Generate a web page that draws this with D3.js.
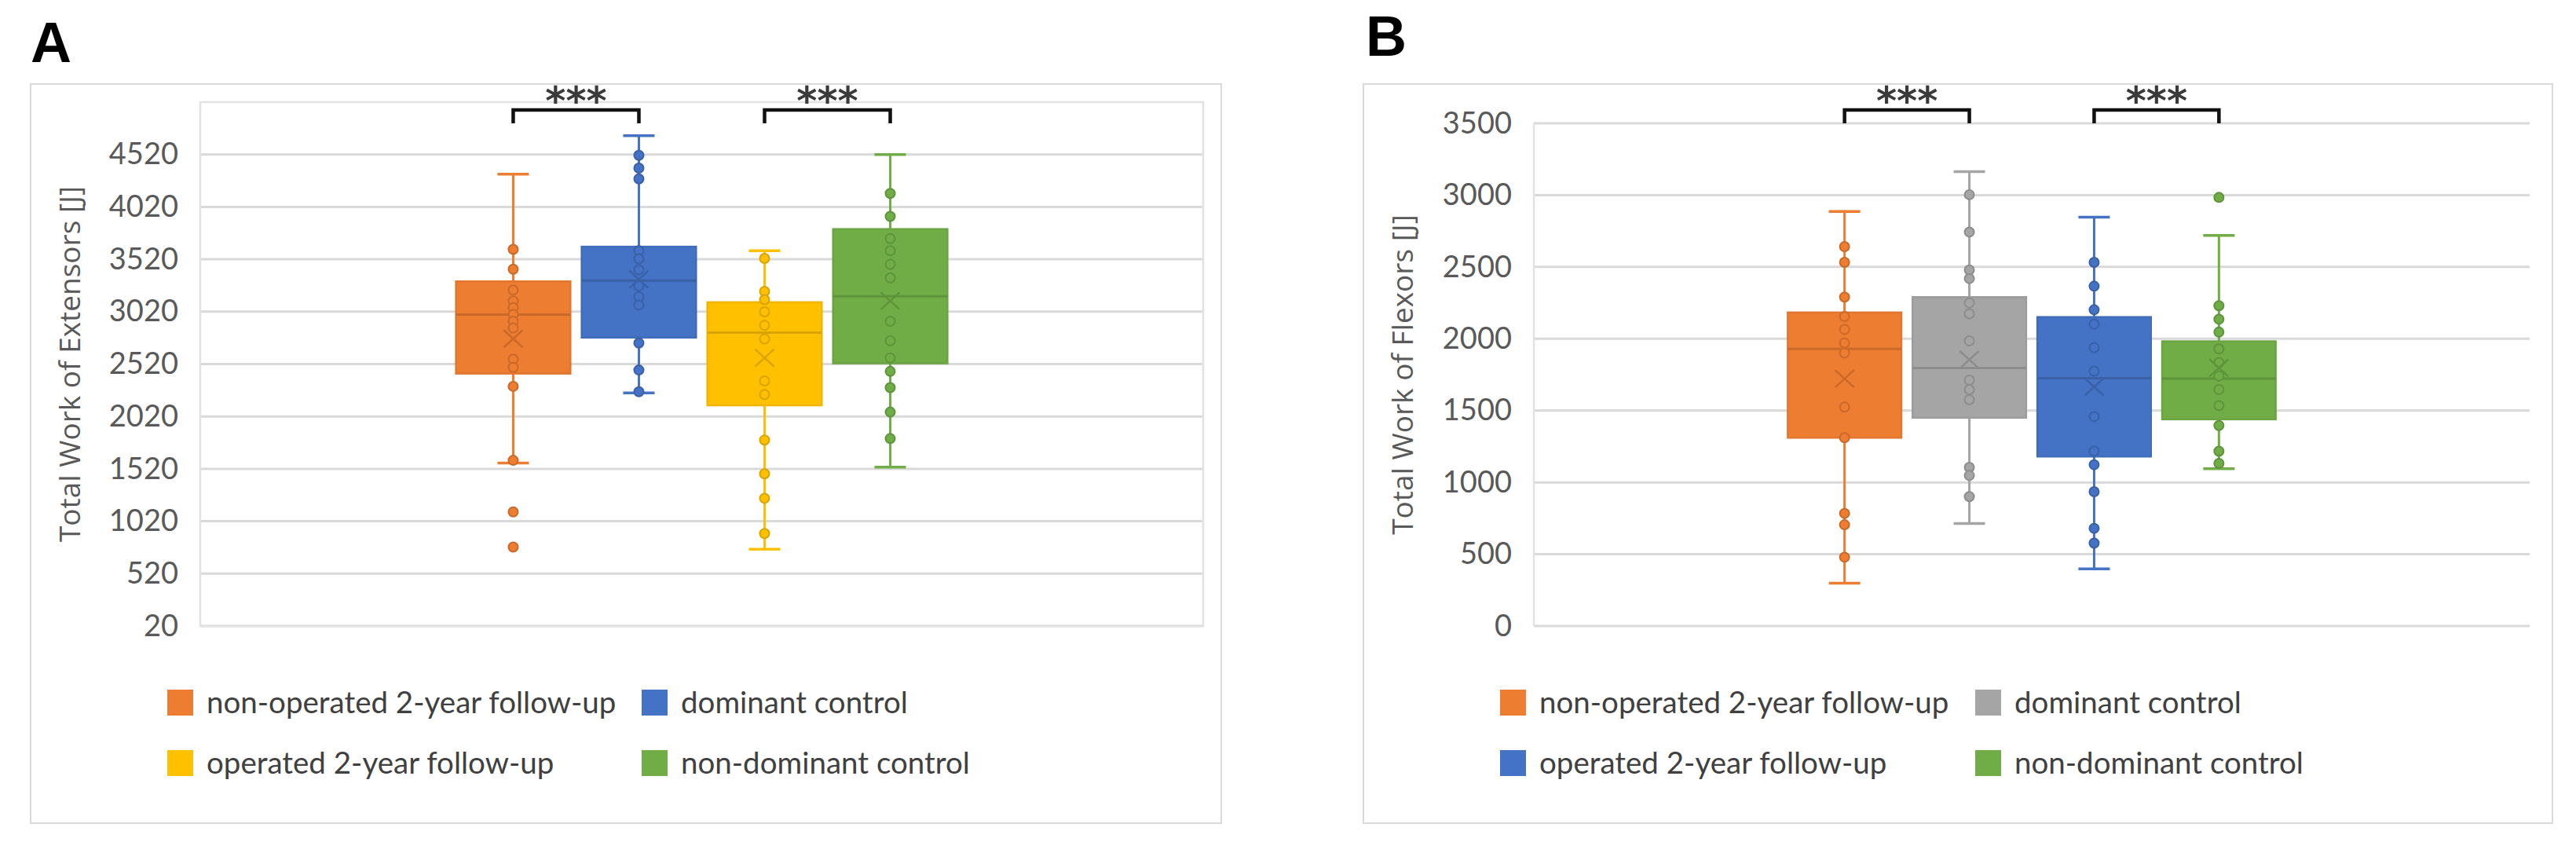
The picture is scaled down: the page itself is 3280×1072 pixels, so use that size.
<!DOCTYPE html>
<html>
<head>
<meta charset="utf-8">
<script src="https://cdn.jsdelivr.net/npm/d3@7"></script>
<style>
body { margin: 0; background: #fff; }
svg { display: block; }
</style>
</head>
<body>
<div id="chart"></div>
<script>
var width = 3280;
var height = 1072;

// legend / series order is the same in both panels
var seriesNames = ["non-operated 2-year follow-up", "dominant control", "operated 2-year follow-up", "non-dominant control"];
var colorsA = ["#ED7D31", "#4472C4", "#FFC000", "#70AD47"];
var colorsB = ["#ED7D31", "#A5A5A5", "#4472C4", "#70AD47"];

// A - total work of extensors [J]
var extTicks = [20, 520, 1020, 1520, 2020, 2520, 3020, 3520, 4020, 4520];
var extLow  = [1575, 2244, 752, 1537];
var extQ1   = [2429, 2773, 2126, 2527];
var extMed  = [2993, 3316, 2820, 3166];
var extQ3   = [3309, 3640, 3110, 3808];
var extHigh = [4332, 4700, 3601, 4520];
var extMean = [2762, 3329, 2579, 3122];
var extPoints = [
	[3614, 3425, 3226, 3122, 3058, 2993, 2928, 2864, 2567, 2488, 2307, 1601, 1109, 773],
	[4512, 4390, 4287, 3601, 3524, 3420, 3265, 3162, 3083, 2721, 2463, 2256],
	[3528, 3213, 3135, 3019, 2890, 2760, 2359, 2230, 1795, 1472, 1239, 903],
	[4149, 3929, 3717, 3601, 3472, 3343, 2929, 2742, 2579, 2450, 2295, 2062, 1809]
];

// B - total work of flexors [J]
var flexTicks = [0, 500, 1000, 1500, 2000, 2500, 3000, 3500];
var flexLow  = [298, 713, 398, 1095];
var flexQ1   = [1311, 1450, 1180, 1439];
var flexMed  = [1929, 1797, 1726, 1722];
var flexQ3   = [2183, 2290, 2151, 1982];
var flexHigh = [2886, 3163, 2846, 2720];
var flexMean = [1722, 1854, 1665, 1797];
var flexPoints = [
	[2641, 2532, 2290, 2155, 2065, 1970, 1901, 1524, 1311, 784, 705, 479],
	[3003, 2743, 2479, 2419, 2249, 2174, 1985, 1712, 1646, 1575, 1105, 1048, 901],
	[2532, 2366, 2202, 2102, 1938, 1775, 1458, 1217, 1123, 935, 680, 577],
	[2984, 2230, 2136, 2046, 1929, 1835, 1741, 1646, 1534, 1396, 1217, 1132]
];

// pairs marked *** above the boxes
var sigPairs = [[0, 1], [2, 3]];

var svg = d3.select("#chart").append("svg")
	.attr("width", width)
	.attr("height", height)
	.attr("xmlns", "http://www.w3.org/2000/svg");

svg.append("rect").attr("width", width).attr("height", height).attr("fill", "#fff");

var tickFont = "Lato, 'Liberation Sans', sans-serif";
var textColor = "#595959";

function drawPanel(p) {
	var g = svg.append("g");

	// outer chart frame
	g.append("rect")
		.attr("x", p.frame[0]).attr("y", p.frame[1])
		.attr("width", p.frame[2] - p.frame[0]).attr("height", p.frame[3] - p.frame[1])
		.attr("fill", "none").attr("stroke", "#d9d9d9").attr("stroke-width", 2);

	g.append("text")
		.text(p.letter)
		.attr("x", p.letterPos[0]).attr("y", p.letterPos[1])
		.attr("style", "font-weight:bold; font-size:72px; font-family:'Liberation Sans', Arial, sans-serif;")
		.attr("fill", "#000");

	var y = d3.scaleLinear().domain(p.domain).range([p.bottom, p.top]);

	var x0 = d3.scaleBand().domain(["all"]).range([p.left, p.right])
		.paddingInner(0).paddingOuter(0.5);
	var x1 = d3.scaleBand().domain(d3.range(p.names.length))
		.range([x0("all"), x0("all") + x0.bandwidth()])
		.paddingInner(0.09).paddingOuter(0.04);

	// gridlines
	g.append("g").selectAll("line")
		.data(p.ticks)
		.enter().append("line")
		.attr("x1", p.left).attr("x2", p.right)
		.attr("y1", function(d) { return y(d); })
		.attr("y2", function(d) { return y(d); })
		.style("stroke", "#d9d9d9")
		.style("stroke-width", 3);

	if (p.border) {
		g.append("rect")
			.attr("x", p.left).attr("y", p.top)
			.attr("width", p.right - p.left).attr("height", p.bottom - p.top)
			.attr("fill", "none").attr("stroke", "#e2e2e2").attr("stroke-width", 2.5);
	} else {
		g.append("line")
			.attr("x1", p.left).attr("x2", p.left)
			.attr("y1", p.top).attr("y2", p.bottom)
			.style("stroke", "#e2e2e2").style("stroke-width", 2.5);
	}

	var axis = d3.axisLeft(y).tickValues(p.ticks).tickSize(0).tickPadding(28)
		.tickFormat(d3.format("d"));
	var ax = g.append("g").attr("transform", "translate(" + p.left + ",0)").call(axis);
	ax.select(".domain").remove();
	ax.selectAll("text")
		.attr("style", "font-size:38px; font-family:" + tickFont + ";")
		.attr("fill", textColor);

	g.append("text")
		.text(p.title)
		.attr("transform", "translate(" + p.titleX + "," + ((p.top + p.bottom) / 2) + ") rotate(-90)")
		.attr("text-anchor", "middle")
		.attr("dy", "0.35em")
		.attr("style", "font-size:37px; font-family:'Open Sans', 'Noto Sans', sans-serif;")
		.attr("fill", textColor);

	// boxes
	for (var i = 0; i < p.names.length; i++) {
		var c = p.colors[i];
		var dark = d3.color(c).darker(0.45).toString();
		var cx = x1(i) + x1.bandwidth() / 2;
		var sg = g.append("g");

		sg.append("line")
			.attr("x1", cx).attr("x2", cx)
			.attr("y1", y(p.high[i])).attr("y2", y(p.low[i]))
			.style("stroke", c).style("stroke-width", 3);

		sg.selectAll("line.cap")
			.data([p.low[i], p.high[i]])
			.enter().append("line")
			.attr("class", "cap")
			.attr("x1", cx - 20).attr("x2", cx + 20)
			.attr("y1", function(d) { return y(d); })
			.attr("y2", function(d) { return y(d); })
			.style("stroke", c).style("stroke-width", 3.5);

		sg.append("rect")
			.attr("x", x1(i)).attr("width", x1.bandwidth())
			.attr("y", y(p.q3[i])).attr("height", y(p.q1[i]) - y(p.q3[i]))
			.attr("fill", c)
			.attr("stroke", d3.color(c).darker(0.15)).attr("stroke-width", 2.5);

		sg.append("line")
			.attr("x1", x1(i)).attr("x2", x1(i) + x1.bandwidth())
			.attr("y1", y(p.med[i])).attr("y2", y(p.med[i]))
			.style("stroke", dark).style("stroke-width", 3);

		sg.selectAll("circle")
			.data(p.points[i])
			.enter().append("circle")
			.attr("cx", cx)
			.attr("cy", function(d) { return y(d); })
			.attr("r", 6)
			.attr("fill", c)
			.attr("stroke", dark)
			.attr("stroke-width", 2);

		// mean marker
		var my = y(p.mean[i]);
		sg.append("path")
			.attr("d", "M" + (cx - 12) + "," + (my - 11) + "L" + (cx + 12) + "," + (my + 11) +
				"M" + (cx - 12) + "," + (my + 11) + "L" + (cx + 12) + "," + (my - 11))
			.style("stroke", dark).style("stroke-width", 2.5).style("fill", "none");
	}

	// significance brackets
	for (var k = 0; k < sigPairs.length; k++) {
		var a = x1(sigPairs[k][0]) + x1.bandwidth() / 2;
		var b = x1(sigPairs[k][1]) + x1.bandwidth() / 2;
		g.append("path")
			.attr("d", "M" + a + ",157V140H" + b + "V157")
			.style("fill", "none").style("stroke", "#111").style("stroke-width", 4.5);
		g.append("text")
			.text("***")
			.attr("x", (a + b) / 2).attr("y", 146)
			.attr("text-anchor", "middle")
			.attr("style", "font-size:50px; font-weight:bold; font-family:'DejaVu Sans', sans-serif;")
			.attr("fill", "#3a3a3a");
	}

	// legend: two columns, two rows
	var lg = g.append("g").selectAll("g")
		.data(p.names)
		.enter().append("g")
		.attr("transform", function(d, i) {
			return "translate(" + p.legendCols[i % 2] + "," + p.legendRows[Math.floor(i / 2)] + ")";
		});
	lg.append("rect")
		.attr("x", 0).attr("y", -17).attr("width", 33).attr("height", 33)
		.attr("fill", function(d, i) { return p.colors[i]; });
	lg.append("text")
		.text(function(d) { return d; })
		.attr("x", 50).attr("dy", "0.35em")
		.attr("style", "font-size:38.5px; font-family:" + tickFont + ";")
		.attr("fill", "#404040");
}

drawPanel({
	letter: "A", letterPos: [39, 79],
	frame: [39, 107, 1555, 1048],
	left: 255, right: 1532, top: 130, bottom: 797,
	domain: [20, 5020], ticks: extTicks, border: true,
	title: "Total Work of Extensors [J]", titleX: 89,
	names: seriesNames, colors: colorsA,
	low: extLow, q1: extQ1, med: extMed, q3: extQ3, high: extHigh, mean: extMean, points: extPoints,
	legendCols: [213, 817], legendRows: [895, 972]
});

drawPanel({
	letter: "B", letterPos: [1739, 71],
	frame: [1736, 107, 3250, 1048],
	left: 1953, right: 3221, top: 157, bottom: 797,
	domain: [0, 3500], ticks: flexTicks, border: false,
	title: "Total Work of Flexors [J]", titleX: 1786,
	names: seriesNames, colors: colorsB,
	low: flexLow, q1: flexQ1, med: flexMed, q3: flexQ3, high: flexHigh, mean: flexMean, points: flexPoints,
	legendCols: [1910, 2515], legendRows: [895, 972]
});
</script>
</body>
</html>
